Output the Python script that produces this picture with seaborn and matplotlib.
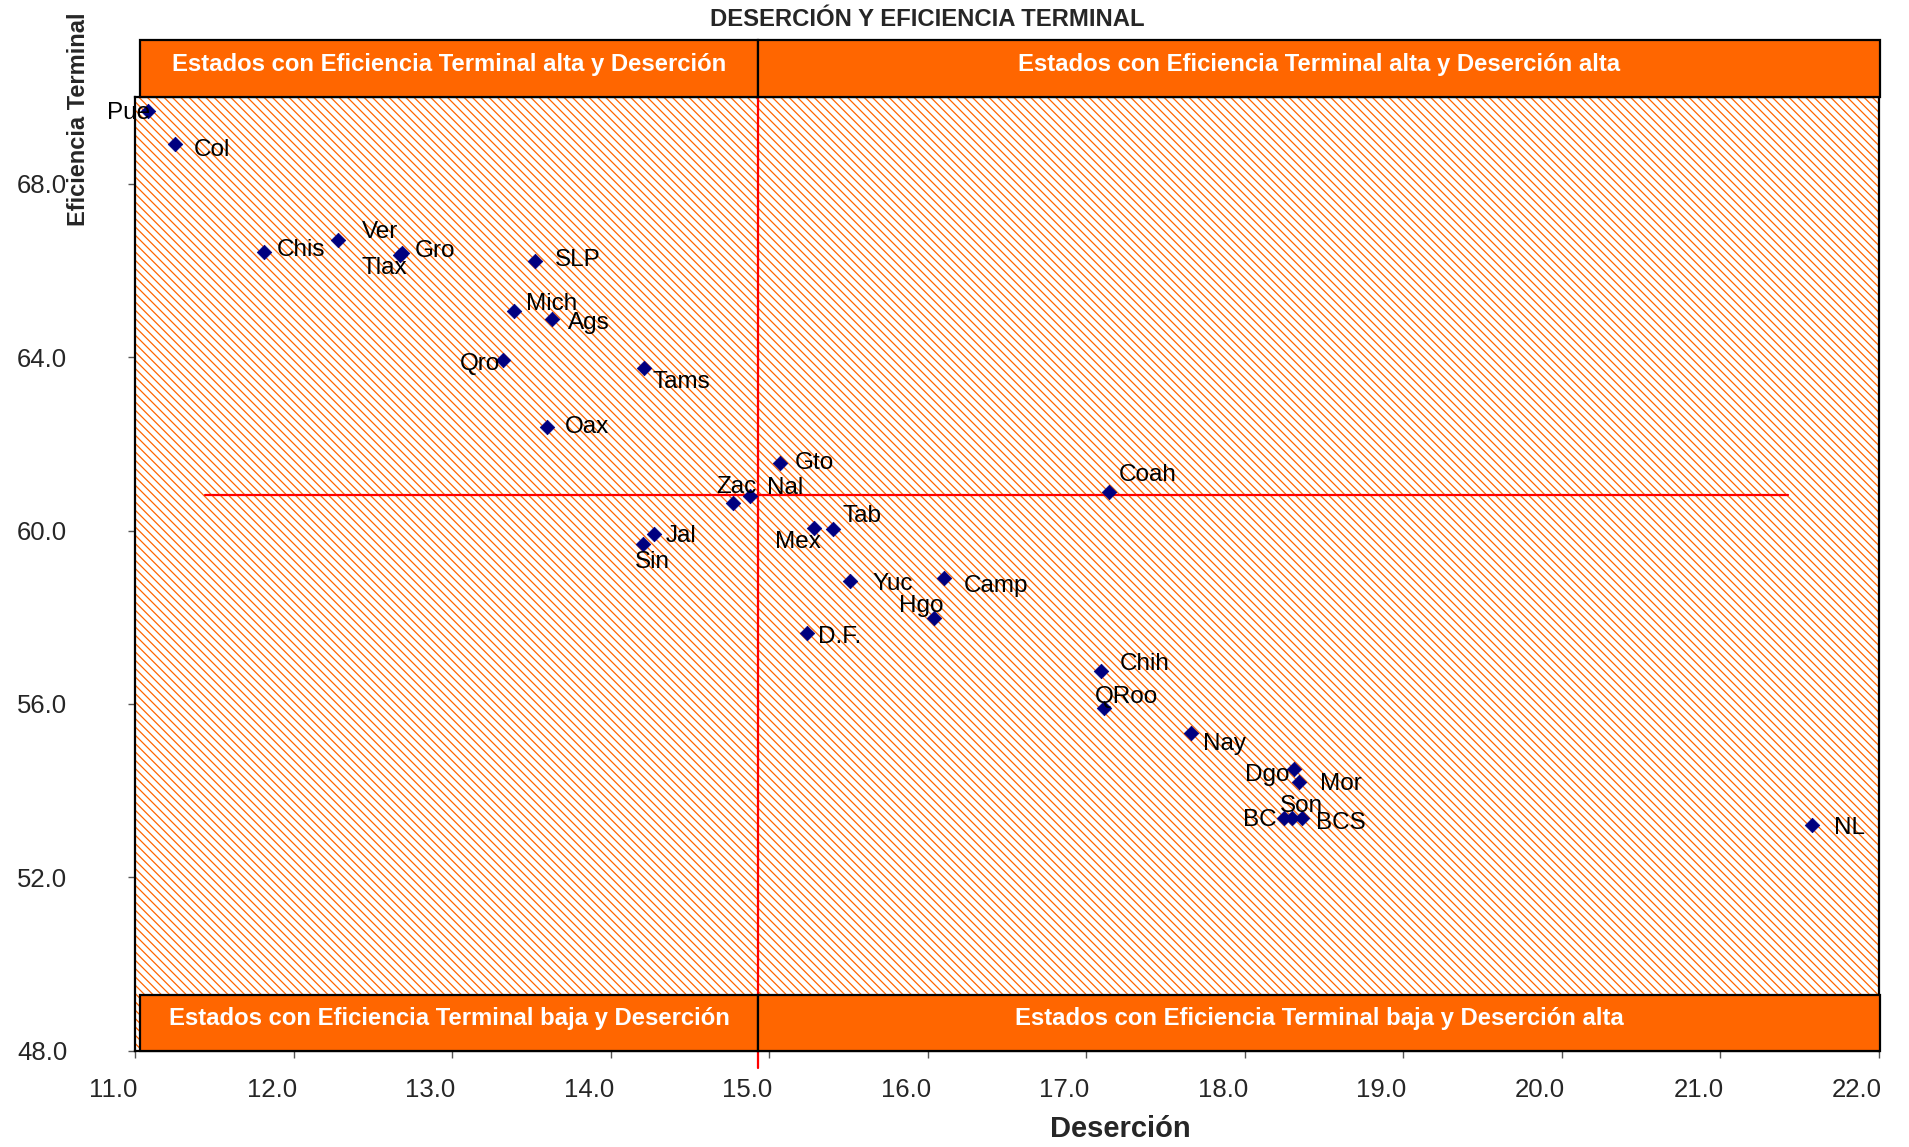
import matplotlib
matplotlib.use('Agg')
import matplotlib.pyplot as plt
from matplotlib.patches import Rectangle
from matplotlib.transforms import ScaledTranslation
from matplotlib.ticker import FormatStrFormatter
import seaborn as sns
import pandas as pd

# data
estados = ['Pue', 'Col', 'Chis', 'Ver', 'Gro', 'Tlax', 'SLP', 'Mich', 'Ags', 'Qro',
           'Tams', 'Oax', 'Gto', 'Zac', 'Nal', 'Tab', 'Mex', 'Jal', 'Sin', 'Yuc',
           'Camp', 'Hgo', 'D.F.', 'Coah', 'Chih', 'QRoo', 'Nay', 'Dgo', 'Mor', 'Son',
           'BC', 'BCS', 'NL']
desercion = [11.08, 11.25, 11.81, 12.28, 12.68, 12.67, 13.52, 13.39, 13.63, 13.32,
             14.21, 13.60, 15.07, 14.77, 14.88, 15.40, 15.28, 14.27, 14.20, 15.51,
             16.10, 16.04, 15.24, 17.14, 17.09, 17.11, 17.66, 18.31, 18.34, 18.30,
             18.25, 18.36, 21.58]
eficiencia = [69.69, 68.91, 66.43, 66.70, 66.41, 66.36, 66.23, 65.07, 64.87, 63.93,
              63.74, 62.40, 61.57, 60.64, 60.80, 60.03, 60.07, 59.92, 59.68, 58.84,
              58.90, 57.99, 57.64, 60.88, 56.76, 55.90, 55.34, 54.49, 54.20, 53.36,
              53.36, 53.36, 53.20]

media_desercion = 14.93
media_eficiencia = 60.82
rango_linea_h = (11.44, 21.43)

x_ticks = [11, 12, 13, 14, 15, 16, 17, 18, 19, 20, 21, 22]
y_ticks = [48, 52, 56, 60, 64, 68]

texto_bandas_sup = ['Estados con Eficiencia Terminal alta y Deserción',
                    'Estados con Eficiencia Terminal alta y Deserción alta']
texto_bandas_inf = ['Estados con Eficiencia Terminal baja y Deserción',
                    'Estados con Eficiencia Terminal baja y Deserción alta']

# label placement: (dx px, dy px, ha) relative to each marker
label_pos = {
    'Pue': (2, 0, 'right'), 'Col': (19, -4, 'left'), 'Chis': (13, 4, 'left'),
    'Ver': (24, 10, 'left'), 'Gro': (13, 4, 'left'), 'Tlax': (-39, -11, 'left'),
    'SLP': (20, 3, 'left'), 'Mich': (12, 9, 'left'), 'Ags': (16, -2, 'left'),
    'Qro': (-3, -2, 'right'), 'Tams': (8, -12, 'left'), 'Oax': (17, 2, 'left'),
    'Gto': (14, 2, 'left'), 'Zac': (-17, 18, 'left'), 'Nal': (17, 10, 'left'),
    'Tab': (10, 15, 'left'), 'Mex': (-39, -12, 'left'), 'Jal': (12, 0, 'left'),
    'Sin': (-8, -16, 'left'), 'Yuc': (22, -1, 'left'), 'Camp': (20, -6, 'left'),
    'Hgo': (-35, 14, 'left'), 'D.F.': (11, -2, 'left'), 'Coah': (10, 19, 'left'),
    'Chih': (19, 9, 'left'), 'QRoo': (-9, 13, 'left'), 'Nay': (12, -9, 'left'),
    'Dgo': (-4, -4, 'right'), 'Mor': (21, 0, 'left'), 'Son': (-12, 14, 'left'),
    'BC': (-8, 0, 'right'), 'BCS': (14, -3, 'left'), 'NL': (22, -1, 'left'),
}

df = pd.DataFrame({'estado': estados, 'desercion': desercion, 'eficiencia': eficiencia})

sns.set_style('white')
plt.rcParams['font.family'] = ['Liberation Sans', 'DejaVu Sans']
plt.rcParams['hatch.linewidth'] = 0.9

ORANGE = '#FF6600'
NAVY = '#000080'

fig = plt.figure(figsize=(19.09, 11.47), dpi=100)
ax = fig.add_axes([0.0709, 0.0840, 0.9133, 0.8313])
ax.set_xlim(11, 22)
ax.set_ylim(48, 70)

# hatched plot area
ax.add_patch(Rectangle((0, 0), 1, 1, transform=ax.transAxes, facecolor='white',
                       edgecolor=ORANGE, hatch='\\\\\\\\', lw=0, zorder=0.5))

# mean lines
ax.plot([media_desercion, media_desercion], [47.6, 71.3], color='red', lw=1.6,
        zorder=1, clip_on=False)
ax.plot(rango_linea_h, [media_eficiencia, media_eficiencia], color='red', lw=1.6, zorder=1)

sns.scatterplot(data=df, x='desercion', y='eficiencia', marker='D', color=NAVY,
                s=55, edgecolor=NAVY, linewidth=0.5, ax=ax, zorder=3, legend=False)

for _, row in df.iterrows():
    dx, dy, ha = label_pos[row['estado']]
    ax.annotate(row['estado'], (row['desercion'], row['eficiencia']),
                xytext=(dx * 0.72, (dy - 2) * 0.72), textcoords='offset points',
                ha=ha, va='center', fontsize=17.5, color='black', zorder=5)

# quadrant bands
bordes = [11.03, media_desercion, 22.01]
for (y0, y1), textos in [((70.0, 71.32), texto_bandas_sup), ((48.0, 49.29), texto_bandas_inf)]:
    for i, txt in enumerate(textos):
        ax.add_patch(Rectangle((bordes[i], y0), bordes[i + 1] - bordes[i], y1 - y0,
                               facecolor=ORANGE, edgecolor='black', lw=1.6,
                               zorder=4, clip_on=False))
        ax.text((bordes[i] + bordes[i + 1]) / 2, (y0 + y1) / 2 + 0.1, txt,
                ha='center', va='center', color='white', fontsize=17.2,
                fontweight='bold', zorder=6, clip_on=False)

ax.set_xticks(x_ticks)
ax.set_yticks(y_ticks)
ax.xaxis.set_major_formatter(FormatStrFormatter('%.1f'))
ax.yaxis.set_major_formatter(FormatStrFormatter('%.1f'))
ax.tick_params(axis='x', bottom=True, length=5, width=1, color='#555555',
               labelsize=18.5, pad=15)
ax.tick_params(axis='y', left=True, length=5, width=1, color='#555555',
               labelsize=18.5, pad=44)
for lab in ax.get_xticklabels():
    lab.set_transform(lab.get_transform() + ScaledTranslation(-0.22, 0, fig.dpi_scale_trans))

for sp in ax.spines.values():
    sp.set_color('black')
    sp.set_linewidth(1.6)
ax.set_xlabel('')
ax.set_ylabel('')

fig.text(0.587, 0.016, 'Deserción', ha='center', va='center', fontsize=21, fontweight='bold')
fig.text(0.041, 0.896, 'Eficiencia Terminal', rotation=90, ha='center', va='center',
         fontsize=17, fontweight='bold')
fig.text(0.486, 0.983, 'DESERCIÓN Y EFICIENCIA TERMINAL', ha='center', va='center',
         fontsize=17.2, fontweight='bold')

fig.savefig('out.png', dpi=100)
